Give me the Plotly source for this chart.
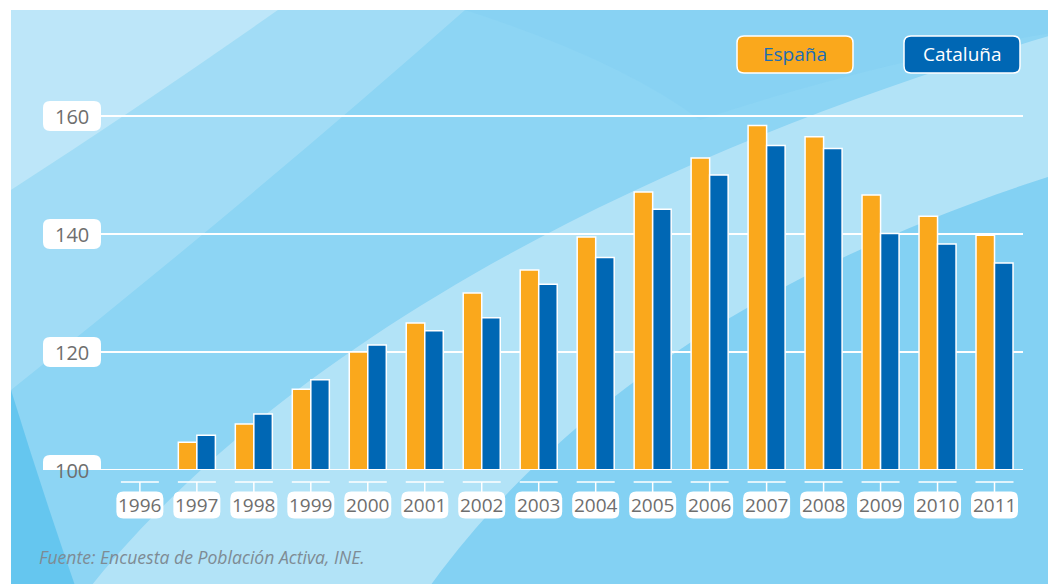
import plotly.graph_objects as go

years = ["1996", "1997", "1998", "1999", "2000", "2001", "2002", "2003",
         "2004", "2005", "2006", "2007", "2008", "2009", "2010", "2011"]
espana = [100, 104.7, 107.8, 113.7, 120.0, 124.9, 130.0, 133.9,
          139.5, 147.1, 152.9, 158.4, 156.5, 146.6, 143.0, 139.8]
cataluna = [100, 105.9, 109.5, 115.3, 121.2, 123.6, 125.8, 131.5,
            136.0, 144.2, 150.0, 155.0, 154.5, 140.1, 138.3, 135.1]
y_ticks = [100, 120, 140, 160]
series_names = ["España", "Cataluña"]
source_text = "Fuente: Encuesta de Población Activa, INE."

W, H = 1056, 584
OX, OY = 8, 8            # page offset of the figure inside the browser window
PL, PR, PT, PB = 100, 1023, 87, 470   # plot area in window pixels
L, T = PL - OX, PT - OY
R, B = W - (PR - OX), H - (PB - OY)
PW, PH = PR - PL, PB - PT

ORANGE = "#FAA81C"
BLUE = "#0067B4"
GRAY = "#6E6E6E"
FONT = "Open Sans"


def px(x):
    return (x - PL) / PW


def py(y):
    return (PB - y) / PH


def rr(w, h, r, cx=0, cy=0):
    x0, x1 = cx - w / 2, cx + w / 2
    y0, y1 = cy - h / 2, cy + h / 2
    return (f"M{x0 + r},{y0} L{x1 - r},{y0} Q{x1},{y0} {x1},{y0 + r} "
            f"L{x1},{y1 - r} Q{x1},{y1} {x1 - r},{y1} L{x0 + r},{y1} "
            f"Q{x0},{y1} {x0},{y1 - r} L{x0},{y0 + r} Q{x0},{y0} {x0 + r},{y0} Z")


def ppath(points_cmds):
    out = []
    for cmd, pts in points_cmds:
        coords = " ".join(f"{px(x):.5f},{py(y):.5f}" for x, y in pts)
        out.append(f"{cmd}{coords}")
    return " ".join(out) + " Z"


fig = go.Figure()
fig.add_trace(go.Bar(x=years, y=espana, name=series_names[0],
                     marker=dict(color=ORANGE, line=dict(color="white", width=1.5))))
fig.add_trace(go.Bar(x=years, y=cataluna, name=series_names[1],
                     marker=dict(color=BLUE, line=dict(color="white", width=1.5))))

shapes = []
# background
shapes.append(dict(type="rect", xref="paper", yref="paper", layer="below",
                   x0=px(11), x1=px(1070), y0=py(10), y1=py(600),
                   fillcolor="#8DD5F4", line=dict(width=0)))
# top-left light area
shapes.append(dict(type="path", xref="paper", yref="paper", layer="below",
                   path=ppath([("M", [(11, 10)]), ("L", [(278, 10)]),
                               ("Q", [(150, 100), (11, 190)])]),
                   fillcolor="rgba(255,255,255,0.42)", line=dict(width=0)))
# medium band top-left
shapes.append(dict(type="path", xref="paper", yref="paper", layer="below",
                   path=ppath([("M", [(278, 10)]), ("L", [(465, 10)]),
                               ("Q", [(250, 200), (11, 390)]), ("L", [(11, 190)]),
                               ("Q", [(150, 100), (278, 10)])]),
                   fillcolor="rgba(255,255,255,0.18)", line=dict(width=0)))
# big light swoosh
shapes.append(dict(type="path", xref="paper", yref="paper", layer="below",
                   path=ppath([("M", [(80, 600)]),
                               ("C", [(250, 380), (580, 170), (1070, 30)]),
                               ("L", [(1070, 170)]),
                               ("C", [(780, 260), (560, 400), (420, 600)])]),
                   fillcolor="rgba(255,255,255,0.33)", line=dict(width=0)))
# upper-right slightly darker wedge
shapes.append(dict(type="path", xref="paper", yref="paper", layer="below",
                   path=ppath([("M", [(465, 10)]), ("Q", [(620, 60), (700, 120)]),
                               ("Q", [(880, 60), (1070, 30)]), ("L", [(1070, 10)])]),
                   fillcolor="rgba(120,200,240,0.22)", line=dict(width=0)))
# dark bottom-left
shapes.append(dict(type="path", xref="paper", yref="paper", layer="below",
                   path=ppath([("M", [(11, 600)]), ("L", [(11, 390)]),
                               ("Q", [(45, 500), (80, 600)])]),
                   fillcolor="rgba(70,185,235,0.55)", line=dict(width=0)))
# bottom-right slightly darker
shapes.append(dict(type="path", xref="paper", yref="paper", layer="below",
                   path=ppath([("M", [(420, 600)]),
                               ("C", [(560, 400), (780, 260), (1070, 170)]),
                               ("L", [(1070, 600)])]),
                   fillcolor="rgba(90,195,240,0.18)", line=dict(width=0)))

# baseline
shapes.append(dict(type="line", xref="paper", yref="y", x0=0, x1=1,
                   y0=y_ticks[0], y1=y_ticks[0], line=dict(color="white", width=2),
                   layer="above"))

annotations = []
# y tick boxes
for v in y_ticks:
    shapes.append(dict(type="path", xref="paper", yref="y", xsizemode="pixel",
                       ysizemode="pixel", xanchor=px(72), yanchor=v,
                       path=rr(58, 30, 7), fillcolor="white",
                       line=dict(width=0), layer="above"))
    annotations.append(dict(x=px(72), y=v, xref="paper", yref="y", text=str(v),
                            showarrow=False, xanchor="center", yanchor="middle",
                            font=dict(family=FONT, size=20, color=GRAY)))

# x tick decorations and labels
for i, yr in enumerate(years):
    shapes.append(dict(type="path", xref="x", yref="paper", xsizemode="pixel",
                       ysizemode="pixel", xanchor=i, yanchor=0,
                       path="M-19,-12 L19,-12 M0,-12 L0,-22",
                       line=dict(color="white", width=1.5), layer="above"))
    shapes.append(dict(type="path", xref="x", yref="paper", xsizemode="pixel",
                       ysizemode="pixel", xanchor=i, yanchor=0,
                       path=rr(47, 27, 7, 0, -35), fillcolor="white",
                       line=dict(width=0), layer="above"))
    annotations.append(dict(x=i, y=0, xref="x", yref="paper", yshift=-35,
                            text=yr, showarrow=False, xanchor="center",
                            yanchor="middle",
                            font=dict(family=FONT, size=19, color=GRAY)))

# legend boxes
leg = [(795, ORANGE, "#1C6DB4", series_names[0]), (962, BLUE, "white", series_names[1])]
for cx, fill, tc, name in leg:
    shapes.append(dict(type="path", xref="paper", yref="paper", xsizemode="pixel",
                       ysizemode="pixel", xanchor=px(cx), yanchor=py(54.5),
                       path=rr(116, 37, 7), fillcolor=fill,
                       line=dict(color="white", width=1.5), layer="above"))
    annotations.append(dict(x=px(cx), y=py(54.5), xref="paper", yref="paper",
                            text=name, showarrow=False, xanchor="center",
                            yanchor="middle",
                            font=dict(family=FONT, size=19, color=tc)))

annotations.append(dict(x=px(37), y=py(557), xref="paper", yref="paper",
                        text=source_text, showarrow=False, xanchor="left",
                        yanchor="middle",
                        font=dict(family=FONT, size=17.6, color="#7E8B94",
                                  style="italic")))

fig.update_layout(
    width=W, height=H,
    margin=dict(l=L, r=R, t=T, b=B),
    paper_bgcolor="white",
    plot_bgcolor="rgba(0,0,0,0)",
    showlegend=False,
    barmode="group",
    bargap=0.35,
    bargroupgap=0.0,
    shapes=shapes,
    annotations=annotations,
    xaxis=dict(type="category", range=[-0.7, 15.5], showticklabels=False,
               showgrid=False, zeroline=False, showline=False, ticks=""),
    yaxis=dict(range=[100, 100 + PH / 5.9], tickvals=y_ticks,
               showticklabels=False, showgrid=True, gridcolor="white",
               gridwidth=1.5, zeroline=False, showline=False, ticks=""),
)

fig.write_html("out.html")
